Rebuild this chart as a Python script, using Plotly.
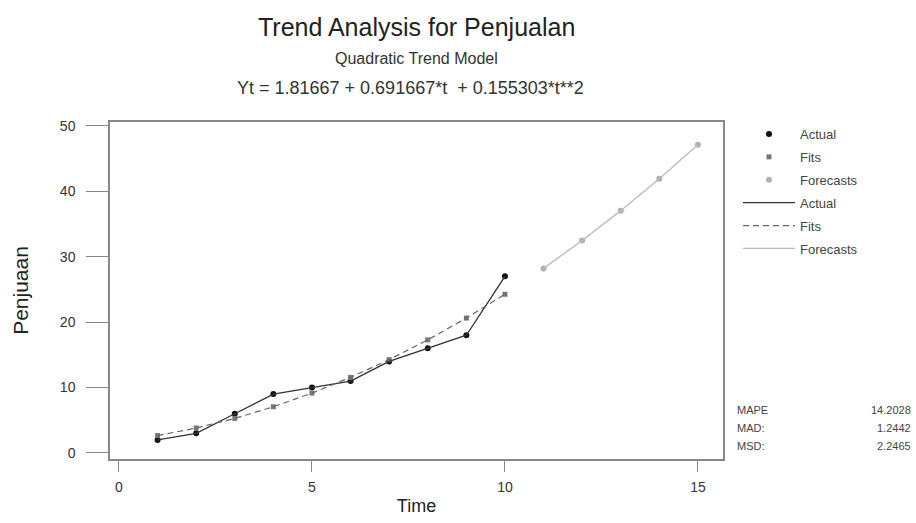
import plotly.graph_objects as go

# ---- data ----
time_actual = [1, 2, 3, 4, 5, 6, 7, 8, 9, 10]
penjualan = [2, 3, 6, 9, 10, 11, 14, 16, 18, 27]
fits = [2.66, 3.82, 5.29, 7.07, 9.16, 11.56, 14.27, 17.29, 20.62, 24.26]
time_forecast = [11, 12, 13, 14, 15]
forecasts = [28.22, 32.48, 37.05, 41.94, 47.13]
x_ticks = [0, 5, 10, 15]
y_ticks = [0, 10, 20, 30, 40, 50]
stat_labels = ["MAPE", "MAD:", "MSD:"]
stat_values = ["14.2028", "1.2442", "2.2465"]

FONT = "Liberation Sans, Arial, sans-serif"
W, H = 916, 523
L, R, T, B = 110, 723, 122, 459

fig = go.Figure()
# marker-only entries
fig.add_trace(go.Scatter(x=time_actual, y=penjualan, mode="markers", name="Actual",
                         legendgroup="g1",
                         marker=dict(color="#111111", size=6, symbol="circle")))
fig.add_trace(go.Scatter(x=time_actual, y=fits, mode="markers", name="Fits",
                         legendgroup="g2",
                         marker=dict(color="#777777", size=5, symbol="square")))
fig.add_trace(go.Scatter(x=time_forecast, y=forecasts, mode="markers", name="Forecasts",
                         legendgroup="g3",
                         marker=dict(color="#b0b0b0", size=6, symbol="circle")))
# line entries
fig.add_trace(go.Scatter(x=time_actual, y=penjualan, mode="lines", name="Actual",
                         legendgroup="g4",
                         line=dict(color="#333333", width=1.3)))
fig.add_trace(go.Scatter(x=time_actual, y=fits, mode="lines", name="Fits",
                         legendgroup="g5",
                         line=dict(color="#666666", width=1.2, dash="6px,4px")))
fig.add_trace(go.Scatter(x=time_forecast, y=forecasts, mode="lines", name="Forecasts",
                         legendgroup="g6",
                         line=dict(color="#bbbbbb", width=1.3)))

def py(p):
    return (B - p) / (B - T)

annotations = [
    dict(text="Trend Analysis for Penjualan", x=0.5, y=py(27), font=dict(size=25, color="#222222")),
    dict(text="Quadratic Trend Model", x=0.5, y=py(58), font=dict(size=16, color="#333333")),
    dict(text="Yt = 1.81667 + 0.691667*t  + 0.155303*t**2", x=0.49, y=py(88),
         font=dict(size=18, color="#333333")),
]
for a in annotations:
    a.update(xref="paper", yref="paper", xanchor="center", yanchor="middle", showarrow=False)

row_y = [410, 428, 446]
for lab, val, yy in zip(stat_labels, stat_values, row_y):
    annotations.append(dict(text=lab, x=(735 - L) / (R - L), y=py(yy), xref="paper", yref="paper",
                            xanchor="left", yanchor="middle", showarrow=False,
                            font=dict(size=11, color="#444444")))
    annotations.append(dict(text=val, x=(913 - L) / (R - L), y=py(yy), xref="paper", yref="paper",
                            xanchor="right", yanchor="middle", showarrow=False,
                            font=dict(size=11, color="#444444")))

fig.update_layout(
    width=W, height=H,
    margin=dict(l=L, r=W - R, t=T, b=H - B, pad=0, autoexpand=False),
    paper_bgcolor="white", plot_bgcolor="white",
    font=dict(family=FONT, color="#333333"),
    showlegend=True,
    legend=dict(x=(738 - L) / (R - L), y=py(119), xanchor="left", yanchor="top",
                font=dict(size=13, color="#444444"), tracegroupgap=3,
                itemwidth=52, bgcolor="rgba(0,0,0,0)"),
    annotations=annotations,
)
fig.update_xaxes(range=[-0.233, 15.65], tickvals=x_ticks, ticks="outside", ticklen=11,
                 tickcolor="#888888", showline=True, linecolor="#888888", linewidth=1.5,
                 mirror=True, showgrid=False, zeroline=False,
                 tickfont=dict(size=14, color="#333333"), ticklabelstandoff=3,
                 title=dict(text="Time", font=dict(size=18, color="#222222"), standoff=6))
fig.update_yaxes(range=[-0.92, 50.6], tickvals=y_ticks, ticks="outside", ticklen=22,
                 tickcolor="#888888", showline=True, linecolor="#888888", linewidth=1.5,
                 mirror=True, showgrid=False, zeroline=False,
                 tickfont=dict(size=14, color="#333333"), ticklabelstandoff=8,
                 title=dict(text="Penjuaan", font=dict(size=21, color="#222222"), standoff=26))

fig.write_html("out.html", config={"displayModeBar": False},
               post_script="document.body.style.margin='0';")
